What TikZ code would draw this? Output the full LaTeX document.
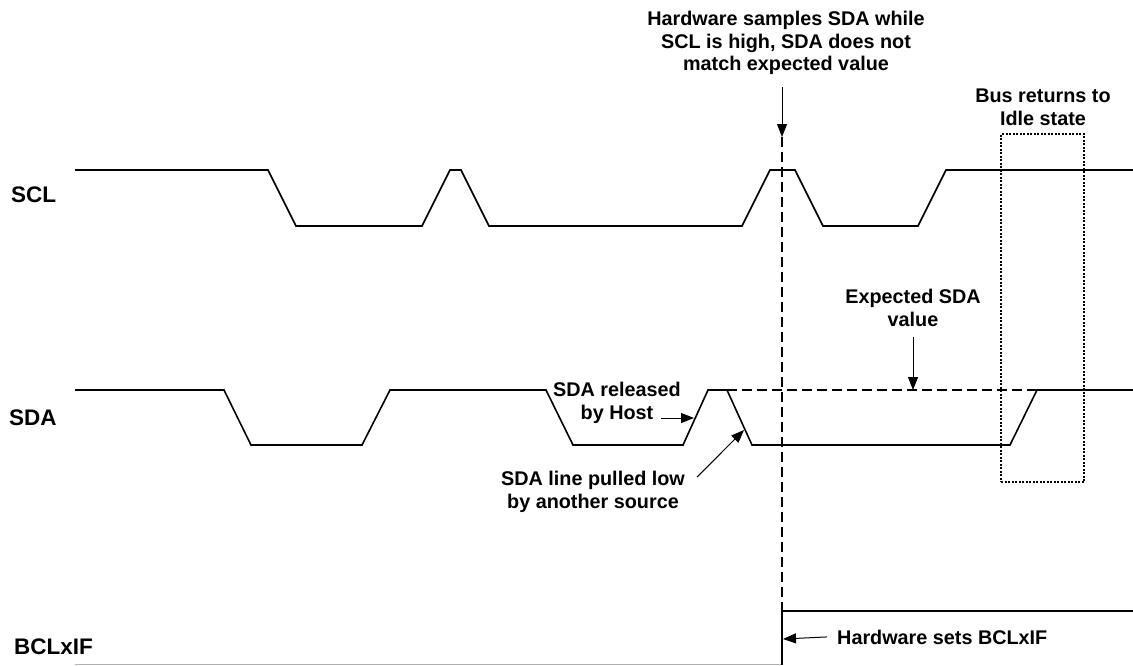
\documentclass[tikz,border=0pt]{standalone}
\usepackage{fontspec}
\setmainfont{Liberation Sans}
\usetikzlibrary{arrows.meta}
\begin{document}
\begin{tikzpicture}[x=1pt,y=-1pt,
  sig/.style={line width=1.6pt,line join=miter},
  note/.style={font=\bfseries\fontsize{19.8}{22.5}\selectfont,align=center,inner sep=0pt,anchor=north},
  lbl/.style={font=\bfseries\fontsize{22.5}{26}\selectfont,inner sep=0pt,anchor=base west},
  arr/.style={line width=1pt,-{Triangle[length=13pt,width=10pt]}},
  dsh/.style={line width=1.2pt,dash pattern=on 10pt off 5pt},
  box/.style={line width=1.2pt,dash pattern=on 2pt off 1.5pt}]
\useasboundingbox (0,0) rectangle (1133,665);
% labels
\node[lbl] (scl) at (11,202) {SCL};
\node[lbl] (sda) at (9,425) {SDA};
\node[lbl] (bcl) at (14,654) {BCLxIF};
% signals
\draw[sig] (75,170) -- (268,170) -- (296,226) -- (422,226) -- (450,170) -- (461,170) -- (489,226) -- (742,226) -- (770,170) -- (795,170) -- (823,226) -- (918,226) -- (946,170) -- (1133,170);
\draw[sig] (75,390) -- (224,390) -- (251,445) -- (362,445) -- (390,390) -- (546,390) -- (573,445) -- (683,445) -- (708,390) -- (727,390) -- (752,445) -- (1010,445) -- (1037,390) -- (1133,390);
\draw[line width=1.5pt,gray!60] (75,664.5) -- (781,664.5);
\draw[sig] (782,665) -- (782,611) -- (1133,611);
% expected dashed
\draw[dsh] (727,390) -- (1037,390);
% dotted box
\node[draw,box,minimum width=83pt,minimum height=348pt,inner sep=0pt] (idle) at (1042.5,308) {};
% notes
\node[note] (hw) at (786,11) {Hardware samples SDA while\\SCL is high, SDA does not\\match expected value};
\node[note] (exp) at (913,289) {Expected SDA\\value};
\node[note] (bus) at (1043,89) {Bus returns to\\Idle state};
\node[note] (rel) at (617,382) {SDA released\\by Host};
\node[note] (pull) at (593,471) {SDA line pulled low\\by another source};
\node[font=\bfseries\fontsize{19.8}{22}\selectfont,inner sep=0pt,anchor=base west] (set) at (837,644) {Hardware sets BCLxIF};
% coordinates
\coordinate (hwtip) at (782,137);
\coordinate (rise) at (782,611);
\coordinate (exptip) at (913,390);
\coordinate (reltip) at (694,418);
\coordinate (pulltip) at (744,430);
\coordinate (settip) at (783,639);
% connectors
\draw[arr] (hw.south -| hwtip) ++(0,12) -- (hwtip);
\draw[dsh] (hwtip) -- (rise);
\draw[arr] (exp.south -| exptip) ++(0,11) -- (exptip);
\draw[arr] (rel.east |- reltip) ++(-20,0) -- (reltip);
\draw[arr] (pull.north east) ++(12,6) -- (pulltip);
\draw[arr] (set.west) ++(-10,0) -- (settip);
\end{tikzpicture}
\end{document}
